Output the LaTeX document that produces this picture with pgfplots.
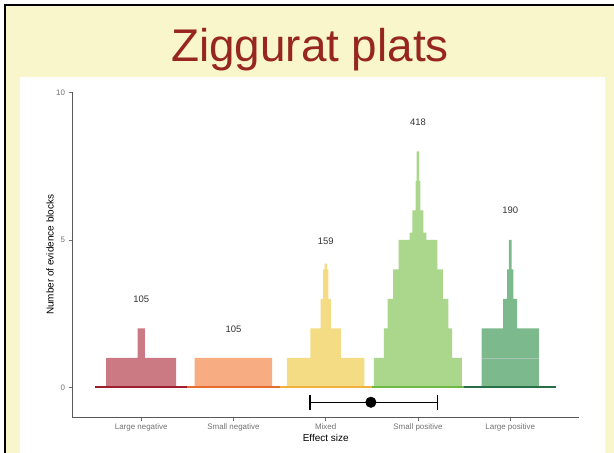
\documentclass[border=0pt]{standalone}
\usepackage{fontspec}
\setmainfont{Liberation Sans}
\usepackage{pgfplots}
\pgfplotsset{compat=1.18}

\definecolor{cream}{RGB}{249,246,204}
\definecolor{titlered}{RGB}{150,38,30}
\definecolor{lnfill}{RGB}{203,122,132}
\definecolor{lnline}{RGB}{158,30,45}
\definecolor{snfill}{RGB}{248,172,130}
\definecolor{snline}{RGB}{232,108,48}
\definecolor{mxfill}{RGB}{243,220,132}
\definecolor{mxline}{RGB}{240,178,58}
\definecolor{spfill}{RGB}{170,215,140}
\definecolor{spline}{RGB}{108,186,68}
\definecolor{lpfill}{RGB}{124,186,142}
\definecolor{lpline}{RGB}{40,110,70}

\begin{document}
\begin{tikzpicture}
\useasboundingbox (0,0) rectangle (614bp,453bp);
\fill[white] (0,0) rectangle (614bp,453bp);
\fill[cream] (5bp,0) rectangle (614bp,448bp);
\draw[black, line width=1.3bp] (5bp,0) -- (5bp,448bp) -- (614bp,448bp);
\fill[white] (20bp,0) rectangle (605bp,376bp);
\node[anchor=base, text=titlered, font=\fontsize{46}{50}\selectfont] at (310bp,391bp) {Ziggurat plats};

\begin{axis}[
  at={(72bp,36bp)}, anchor=south west,
  scale only axis, width=507.4bp, height=324.5bp,
  xmin=0.25, xmax=5.75, ymin=-1, ymax=10,
  axis lines*=left,
  axis line style={draw=black!65, line width=0.8bp},
  xtick={1,2,3,4,5},
  xticklabels={Large negative, Small negative, Mixed, Small positive, Large positive},
  ytick={0,5,10},
  tick align=outside, major tick length=3.5bp,
  tick style={draw=black!55, line width=0.6bp},
  ticklabel style={font=\fontsize{8}{9}\selectfont, text=black!55},
  /pgf/number format/assume math mode=true,
  xlabel={Effect size}, ylabel={Number of evidence blocks},
  label style={font=\fontsize{10}{12}\selectfont, text=black!85},
  every axis x label/.style={at={(axis description cs:0.5,0)}, yshift=-21bp, anchor=center},
  every axis y label/.style={at={(axis description cs:0,0.5)}, xshift=-22bp, rotate=90, anchor=center},
  clip=false,
]
% ziggurats: half-widths of each level around the category centre
\addplot[fill=lnfill, draw=none] coordinates {
  (0.62,0) (0.62,1) (0.96,1) (0.96,2) (1.04,2) (1.04,1) (1.38,1) (1.38,0)} \closedcycle;
\addplot[fill=snfill, draw=none] coordinates {
  (1.58,0) (1.58,1) (2.42,1) (2.42,0)} \closedcycle;
\addplot[fill=mxfill, draw=none] coordinates {
  (2.58,0) (2.58,1) (2.835,1) (2.835,2) (2.945,2) (2.945,3) (2.972,3) (2.972,4) (2.988,4) (2.988,4.2)
  (3.012,4.2) (3.012,4) (3.028,4) (3.028,3) (3.055,3) (3.055,2) (3.165,2) (3.165,1) (3.42,1) (3.42,0)} \closedcycle;
\addplot[fill=spfill, draw=none] coordinates {
  (3.523,0) (3.523,1) (3.63,1) (3.63,2) (3.67,2) (3.67,3) (3.73,3) (3.73,4) (3.79,4) (3.79,5)
  (3.91,5) (3.91,5.25) (3.94,5.25) (3.94,6) (3.975,6) (3.975,7) (3.986,7) (3.986,8)
  (4.014,8) (4.014,7) (4.025,7) (4.025,6) (4.06,6) (4.06,5.25) (4.09,5.25) (4.09,5)
  (4.21,5) (4.21,4) (4.27,4) (4.27,3) (4.33,3) (4.33,2) (4.37,2) (4.37,1) (4.477,1) (4.477,0)} \closedcycle;
\addplot[fill=lpfill, draw=none] coordinates {
  (4.69,0) (4.69,2) (4.924,2) (4.924,3) (4.967,3) (4.967,4) (4.985,4) (4.985,5)
  (5.015,5) (5.015,4) (5.033,4) (5.033,3) (5.076,3) (5.076,2) (5.31,2) (5.31,0)} \closedcycle;
\addplot[draw=lpline!40, line width=0.4bp] coordinates {(4.69,1) (5.31,1)};
% coloured baselines
\addplot[lnline, line width=2bp] coordinates {(0.5,0) (1.5,0)};
\addplot[snline, line width=2bp] coordinates {(1.5,0) (2.5,0)};
\addplot[mxline, line width=2bp] coordinates {(2.5,0) (3.5,0)};
\addplot[spline, line width=2bp] coordinates {(3.5,0) (4.5,0)};
\addplot[lpline, line width=2bp] coordinates {(4.5,0) (5.5,0)};
% counts
\addplot[draw=none, mark=none, nodes near coords, point meta=explicit symbolic,
  every node near coord/.append style={anchor=center, font=\fontsize{9.5}{11}\selectfont, text=black!80}]
  coordinates {(1,3)[105] (2,1.97)[105] (3,4.95)[159] (4,9)[418] (5,6)[190]};
% interval
\addplot[black, line width=1.4bp, mark=|, mark size=7.5bp, mark options={line width=1.4bp}]
  coordinates {(2.83,-0.5) (4.21,-0.5)};
\addplot[black, only marks, mark=*, mark size=5.3bp] coordinates {(3.49,-0.5)};
\end{axis}
\end{tikzpicture}
\end{document}
